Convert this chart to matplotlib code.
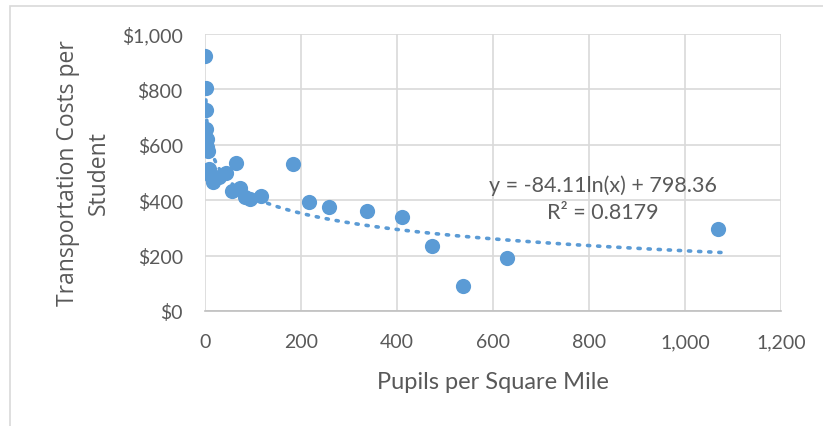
import numpy as np
import matplotlib
matplotlib.use("Agg")
import matplotlib.pyplot as plt
from matplotlib.ticker import FuncFormatter
from matplotlib.patches import Rectangle

pupils = [1, 2, 2, 3, 4, 5, 6, 8, 12, 16, 18, 30, 44, 65, 56, 73, 83, 94, 117,
          183, 217, 258, 337, 410, 473, 538, 629, 1069]
costs = [921, 805, 726, 657, 621, 592, 578, 513, 487, 466, 484, 484, 498, 534, 433, 444, 412, 404, 415,
         531, 394, 375, 361, 339, 235, 90, 191, 296]
coef_a = -84.11
coef_b = 798.36
r2 = 0.8179

plt.rcParams['font.family'] = ['Lato', 'DejaVu Sans']
txt = '#595959'
blue = '#5B9BD5'

fig = plt.figure(figsize=(8.23, 4.27), dpi=100)
ax = fig.add_axes([205/823, 115/427, 576/823, 277/427])

ax.scatter(pupils, costs, s=120, color=blue, zorder=3, linewidths=0)
xt = np.linspace(1, 1075, 400)
ax.plot(xt, coef_a*np.log(xt) + coef_b, color=blue, linestyle=(0, (0.6, 2.2)),
        linewidth=2.6, dash_capstyle='round', zorder=2)

ax.set_xlim(0, 1200)
ax.set_ylim(0, 1000)
ax.set_xticks(range(0, 1201, 200))
ax.set_yticks(range(0, 1001, 200))
ax.xaxis.set_major_formatter(FuncFormatter(lambda v, p: f"{int(v):,}"))
ax.yaxis.set_major_formatter(FuncFormatter(lambda v, p: f"${int(v):,}"))
ax.grid(True, color='#D9D9D9', linewidth=1.2, zorder=0)
ax.set_axisbelow(True)
for s in ['top', 'right', 'left']:
    ax.spines[s].set_visible(False)
ax.spines['bottom'].set_color('#BFBFBF')
ax.spines['bottom'].set_linewidth(1.2)
ax.tick_params(length=0, labelsize=14, labelcolor=txt)
ax.tick_params(axis='y', pad=16)
ax.tick_params(axis='x', pad=16)

ax.set_xlabel('Pupils per Square Mile', fontsize=17, color=txt, labelpad=15)
ax.set_ylabel('Transportation Costs per\nStudent', fontsize=16.5, color=txt, labelpad=8,
              linespacing=1.35, family=['Open Sans', 'DejaVu Sans'])

ax.text(829, 455, 'y = -84.11ln(x) + 798.36', fontsize=15.5, color=txt, ha='center', va='center')
ax.text(829, 357, 'R² = 0.8179', fontsize=15.5, color=txt, ha='center', va='center')

fig.patches.append(Rectangle((10/823, -0.1), 1.2, (427-7)/427 + 0.1, transform=fig.transFigure,
                             fill=False, edgecolor='#D9D9D9', linewidth=1.2))

fig.savefig('out.png', dpi=100)
